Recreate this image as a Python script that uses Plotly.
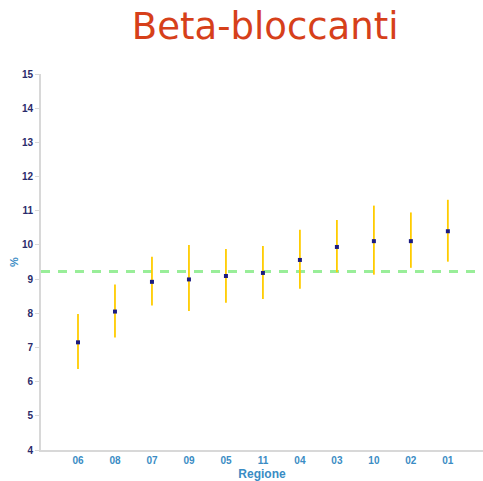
import plotly.graph_objects as go

regioni = ["06", "08", "07", "09", "05", "11", "04", "03", "10", "02", "01"]
valori = [7.15, 8.05, 8.92, 8.99, 9.09, 9.18, 9.56, 9.94, 10.11, 10.11, 10.40]
ic_sup = [7.98, 8.84, 9.65, 10.00, 9.88, 9.97, 10.44, 10.73, 11.15, 10.95, 11.32]
ic_inf = [6.37, 7.29, 8.23, 8.07, 8.31, 8.42, 8.72, 9.20, 9.13, 9.33, 9.51]
riferimento = 9.22
y_ticks = list(range(4, 16))

err_plus = [s - v for s, v in zip(ic_sup, valori)]
err_minus = [v - i for v, i in zip(valori, ic_inf)]
xpos = list(range(len(regioni)))

fig = go.Figure()
fig.add_trace(go.Scatter(
    x=xpos, y=valori, mode="markers",
    marker=dict(symbol="square", size=4, color="#1c1c80"),
    error_y=dict(type="data", symmetric=False, array=err_plus, arrayminus=err_minus,
                 color="#ffcc00", thickness=1.8, width=0),
    showlegend=False,
))
fig.add_shape(type="line", xref="paper", yref="y", x0=0, x1=1,
              y0=riferimento, y1=riferimento,
              line=dict(color="#99ee99", width=3, dash="9px,8px"), layer="below")

fig.update_layout(
    width=483, height=481,
    margin=dict(l=41, r=0, t=74, b=31),
    paper_bgcolor="white", plot_bgcolor="white",
    title=dict(text="Beta-bloccanti", x=0.549, xanchor="center", y=0.945, yanchor="middle",
               font=dict(family="DejaVu Sans", size=37, color="#d6401a")),
    xaxis=dict(range=[-1.0, 10.95], tickmode="array", tickvals=xpos, ticktext=regioni,
               showgrid=False, zeroline=False, showline=True, linecolor="#d8d8d8", linewidth=2,
               ticks="", tickfont=dict(family="Arial", size=10, color="#3a8cc4", weight="bold"),
               title=dict(text="Regione", standoff=5,
                          font=dict(family="Arial", size=12, color="#3a8cc4", weight="bold"))),
    yaxis=dict(range=[4, 15], tickmode="array", tickvals=y_ticks,
               showgrid=False, zeroline=False, showline=True, linecolor="#d8d8d8", linewidth=2,
               ticks="outside", ticklen=4, tickcolor="#d8d8d8",
               tickfont=dict(family="Arial", size=10, color="#2a2a6a", weight="bold"),
               title=dict(text="%", standoff=1,
                          font=dict(family="Arial", size=11, color="#3a8cc4", weight="bold"))),
)

fig.write_html("out.html", config={"displayModeBar": False},
               post_script="document.body.style.margin='0';")
